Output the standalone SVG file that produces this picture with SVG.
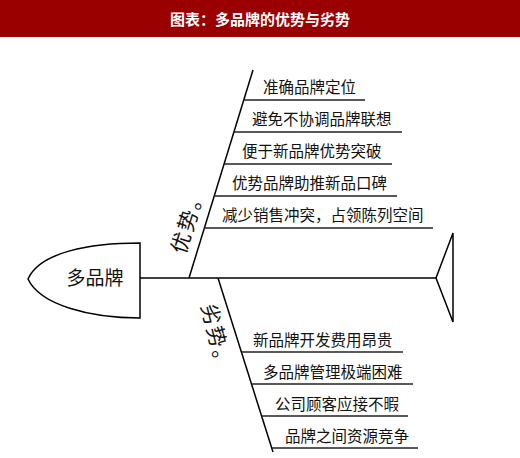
<svg xmlns="http://www.w3.org/2000/svg" width="520" height="458" viewBox="0 0 520 458">
<style>
.t{font-family:"Noto Sans CJK SC","Noto Sans",sans-serif;fill:#111;}
.item{font-size:15.5px;}
.bone{stroke:#000;stroke-width:1.5;fill:none;}
.rib{stroke:#222;stroke-width:1.3;fill:none;}
</style>
<rect x="0" y="0" width="520" height="37" fill="#9A0000"/>
<text x="260" y="25" text-anchor="middle" font-family="Noto Sans CJK SC, sans-serif" font-weight="bold" font-size="15" fill="#fff">图表：多品牌的优势与劣势</text>

<g id="head">
<path class="bone" d="M140,243 C90,243 40,252 28,279 C40,305 90,318 140,318 Z" fill="#fff"/>
<text class="t" x="95" y="285" font-size="19" text-anchor="middle">多品牌</text>
</g>

<g id="connectors">
<line class="bone" x1="140" y1="278" x2="436" y2="278"/>
<path class="bone" d="M436,278 L453,233 L453,322 Z"/>
<line class="bone" x1="189" y1="278" x2="253" y2="70"/>
<line class="bone" x1="218" y1="278" x2="273" y2="452"/>
<line class="rib" x1="244" y1="100" x2="365" y2="100"/>
<line class="rib" x1="234" y1="132" x2="402" y2="132"/>
<line class="rib" x1="224" y1="164" x2="392" y2="164"/>
<line class="rib" x1="214" y1="196" x2="397" y2="196"/>
<line class="rib" x1="204" y1="228" x2="433" y2="228"/>
<line class="rib" x1="242" y1="352" x2="403" y2="352"/>
<line class="rib" x1="252" y1="384" x2="413" y2="384"/>
<line class="rib" x1="262" y1="416" x2="408" y2="416"/>
<line class="rib" x1="272" y1="448" x2="418" y2="448"/>
</g>

<g id="adv-label">
<text class="t" font-size="21" letter-spacing="2" transform="translate(185,255) rotate(-72.6)">优势。</text>
</g>
<g id="dis-label">
<text class="t" font-size="21" letter-spacing="2" transform="translate(201,306) rotate(76)">劣势。</text>
</g>

<g id="adv1"><text class="t item" x="263" y="93">准确品牌定位</text></g>
<g id="adv2"><text class="t item" x="252" y="125">避免不协调品牌联想</text></g>
<g id="adv3"><text class="t item" x="242" y="157">便于新品牌优势突破</text></g>
<g id="adv4"><text class="t item" x="232" y="189">优势品牌助推新品口碑</text></g>
<g id="adv5"><text class="t item" x="222" y="221">减少销售冲突，占领陈列空间</text></g>

<g id="dis1"><text class="t item" x="253" y="346">新品牌开发费用昂贵</text></g>
<g id="dis2"><text class="t item" x="263" y="378">多品牌管理极端困难</text></g>
<g id="dis3"><text class="t item" x="275" y="410">公司顾客应接不暇</text></g>
<g id="dis4"><text class="t item" x="285" y="442">品牌之间资源竞争</text></g>
</svg>
